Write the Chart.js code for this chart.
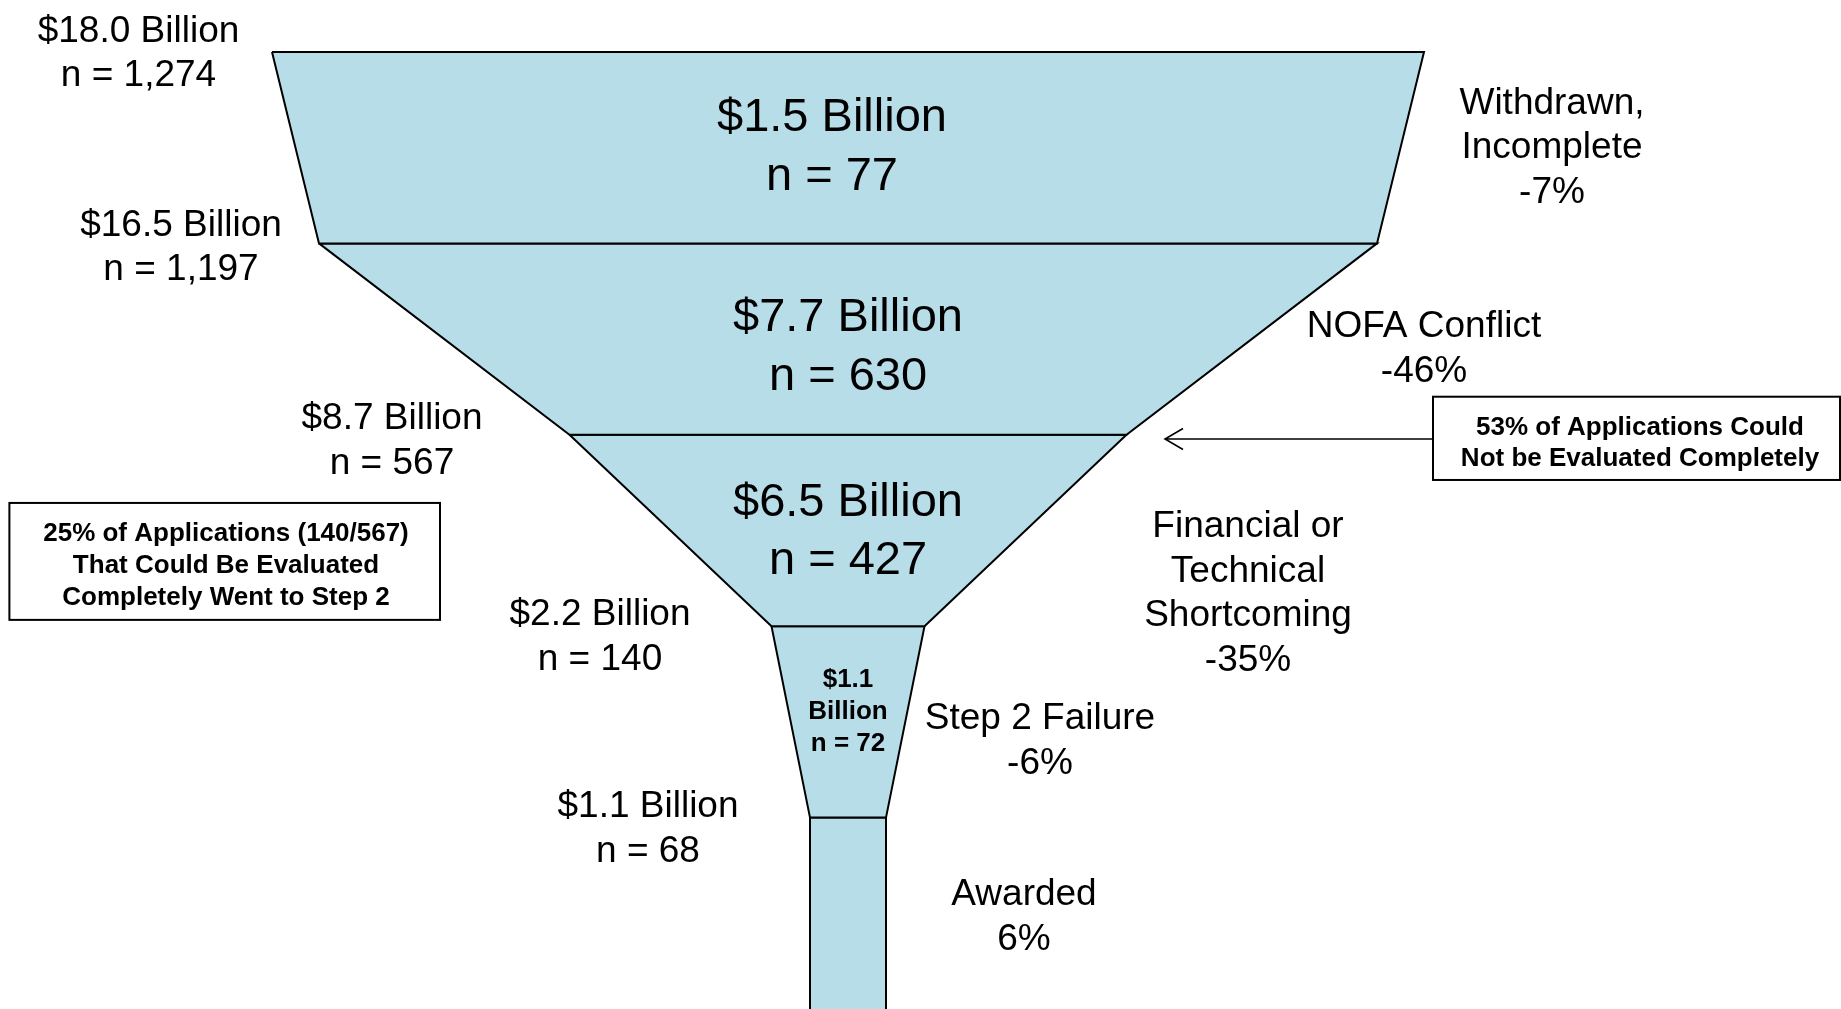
<!DOCTYPE html>
<html><head><meta charset="utf-8">
<script src="https://cdn.jsdelivr.net/npm/chart.js@4"></script>
<style>html,body{margin:0;padding:0;background:#fff;overflow:hidden}#wrap{width:1841px;height:1009px;position:relative}</style>
</head><body><div id="wrap"><canvas id="c"></canvas></div>
<script>
// ---------------- data ----------------
const stageAmounts = ['$18.0 Billion', '$16.5 Billion', '$8.7 Billion', '$2.2 Billion', '$1.1 Billion'];
const stageCounts = ['1,274', '1,197', '567', '140', '68'];
const dropAmounts = ['$1.5 Billion', '$7.7 Billion', '$6.5 Billion', '$1.1 Billion'];
const dropCounts = ['77', '630', '427', '72'];
const dropReasons = [['Withdrawn,', 'Incomplete'], ['NOFA Conflict'], ['Financial or', 'Technical', 'Shortcoming'], ['Step 2 Failure'], ['Awarded']];
const dropPercents = ['-7%', '-46%', '-35%', '-6%', '6%'];
const funnelWidths = [1152, 1058, 557, 153, 76];
const leftNote = ['25% of Applications (140/567)', 'That Could Be Evaluated', 'Completely Went to Step 2'];
const rightNote = ['53% of Applications Could', 'Not be Evaluated Completely'];

// ---------------- layout (positions in axis units) ----------------
const FONT = '"Liberation Sans", Arial, sans-serif';
const FILL = '#b7dde8';
const leftPos = [{x: -709.5, y: -0.008}, {x: -667, y: 1.005}, {x: -456, y: 2.016}, {x: -248, y: 3.04}, {x: -200, y: 4.043}];
const midPos = [{x: -16, y: 0.477}, {x: 0, y: 1.522}, {x: 0, y: 2.488}, {x: 0, y: 3.434}];
const rightPos = [{x: 704, y: 0.483}, {x: 576, y: 1.535}, {x: 400, y: 2.813}, {x: 192, y: 3.583}, {x: 176, y: 4.503}];
const leftBox = {x0: -838.6, x1: -408, y0: 2.356, y1: 2.967, tx: -622, ty: 2.67};
const rightBox = {x0: 585, x1: 992, y0: 1.801, y1: 2.236, tx: 792, ty: 2.031, arrowTo: 317, arrowY: 2.022};

// build funnel polygons from widths
const datasets = [];
for (let k = 0; k < funnelWidths.length; k++) {
  const wTop = funnelWidths[k] / 2;
  const last = k === funnelWidths.length - 1;
  const wBot = last ? wTop : funnelWidths[k + 1] / 2;
  const yBot = last ? k + 1.3 : k + 1;
  datasets.push({
    data: [{x: -wTop, y: k}, {x: wTop, y: k}, {x: wBot, y: yBot}, {x: -wBot, y: yBot}, {x: -wTop, y: k}],
    showLine: true, fill: 'shape', backgroundColor: FILL, borderColor: '#000', borderWidth: 2,
    pointRadius: 0, tension: 0, clip: false
  });
}

function drawLines(ctx, lines, px, py, lh, dy) {
  const n = lines.length;
  lines.forEach((t, i) => ctx.fillText(t, px, py + dy + (i - (n - 1) / 2) * lh));
}

const labelPlugin = {
  id: 'labels',
  afterDatasetsDraw(chart) {
    const ctx = chart.ctx, X = chart.scales.x, Y = chart.scales.y;
    const px = v => X.getPixelForValue(v), py = v => Y.getPixelForValue(v);
    ctx.save();
    ctx.fillStyle = '#000';
    ctx.textAlign = 'center';
    ctx.textBaseline = 'middle';
    // left stage labels
    ctx.font = '37px ' + FONT;
    stageAmounts.forEach((a, i) => drawLines(ctx, [a, 'n = ' + stageCounts[i]], px(leftPos[i].x), py(leftPos[i].y), 44.5, 3.5));
    // right reason labels
    dropReasons.forEach((r, i) => drawLines(ctx, r.concat([dropPercents[i]]), px(rightPos[i].x), py(rightPos[i].y), 44.6, 3.5));
    // middle labels
    dropAmounts.forEach((a, i) => {
      if (i < 3) {
        ctx.font = '47px ' + FONT;
        drawLines(ctx, [a, 'n = ' + dropCounts[i]], px(midPos[i].x), py(midPos[i].y), 58.5, 4);
      } else {
        ctx.font = 'bold 26px ' + FONT;
        const parts = a.split(' ');
        drawLines(ctx, [parts[0], parts[1], 'n = ' + dropCounts[i]], px(midPos[i].x), py(midPos[i].y), 31.7, 2.5);
      }
    });
    // boxes
    ctx.strokeStyle = '#000';
    ctx.lineWidth = 2;
    [leftBox, rightBox].forEach(b => {
      ctx.strokeRect(px(b.x0), py(b.y0), px(b.x1) - px(b.x0), py(b.y1) - py(b.y0));
    });
    ctx.font = 'bold 26px ' + FONT;
    drawLines(ctx, leftNote, px(leftBox.tx), py(leftBox.ty), 32, 2.5);
    drawLines(ctx, rightNote, px(rightBox.tx), py(rightBox.ty), 31.7, 2.5);
    // arrow
    const ay = py(rightBox.arrowY), ax0 = px(rightBox.x0), ax1 = px(rightBox.arrowTo);
    ctx.lineWidth = 1.6;
    ctx.beginPath();
    ctx.moveTo(ax0, ay); ctx.lineTo(ax1, ay);
    ctx.moveTo(ax1 + 18, ay - 10.5); ctx.lineTo(ax1, ay); ctx.lineTo(ax1 + 18, ay + 10.5);
    ctx.stroke();
    ctx.restore();
  }
};

new Chart(document.getElementById('c'), {
  type: 'scatter',
  data: {datasets},
  options: {
    responsive: true, maintainAspectRatio: false, animation: false,
    layout: {padding: {top: 52, left: 0, right: 0, bottom: 0}},
    plugins: {legend: {display: false}, tooltip: {enabled: false}},
    scales: {
      x: {type: 'linear', min: -848, max: 993, display: false},
      y: {type: 'linear', min: 0, max: 5, reverse: true, display: false}
    }
  },
  plugins: [labelPlugin]
});
</script>
</body></html>
